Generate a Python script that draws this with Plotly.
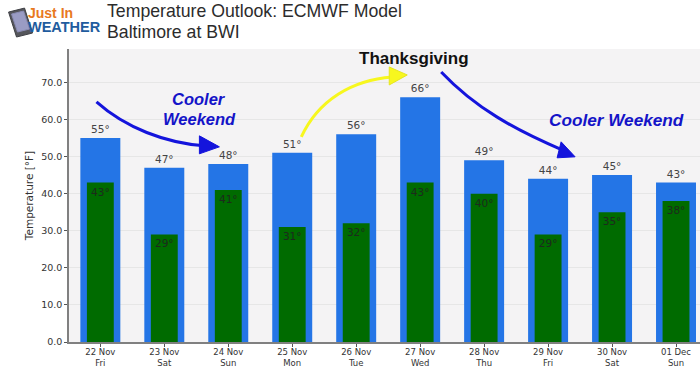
import plotly.graph_objects as go

dates = ["22 Nov", "23 Nov", "24 Nov", "25 Nov", "26 Nov", "27 Nov", "28 Nov", "29 Nov", "30 Nov", "01 Dec"]
weekdays = ["Fri", "Sat", "Sun", "Mon", "Tue", "Wed", "Thu", "Fri", "Sat", "Sun"]
highs = [55, 47, 48, 51, 56, 66, 49, 44, 45, 43]
lows = [43, 29, 41, 31, 32, 43, 40, 29, 35, 38]
y_ticks = [0, 10, 20, 30, 40, 50, 60, 70]

W, H = 700, 366
L, R, T, B = 68.5, 700, 49, 342.5
Y_MAX = 79


def px(x, y):
    return (x - L) / (R - L), (B - y) / (B - T)


def path(points, close=False):
    out = []
    for cmd, *coords in points:
        pairs = [px(coords[i], coords[i + 1]) for i in range(0, len(coords), 2)]
        out.append(cmd + " " + " ".join(f"{a:.5f},{b:.5f}" for a, b in pairs))
    return " ".join(out) + (" Z" if close else "")


def curve(points, color, width):
    return dict(type="path", xref="paper", yref="paper", path=path(points),
                line=dict(color=color, width=width), layer="above")


def fill(points, color, line_color=None, layer="above"):
    return dict(type="path", xref="paper", yref="paper", path=path(points, True),
                fillcolor=color, line=dict(color=line_color or color, width=1), layer=layer)


def label(x, y, text, size, color, family="Liberation Sans", anchor="center", **kw):
    a, b = px(x, y)
    return dict(x=a, y=b, xref="paper", yref="paper", text=text, showarrow=False,
                xanchor=anchor, yanchor="middle", font=dict(family=family, size=size, color=color), **kw)


ix = list(range(len(dates)))
fig = go.Figure()
fig.add_bar(x=ix, y=highs, width=0.625, marker=dict(color="#2475E6", line_width=0),
            text=[f"{v}°" for v in highs], textposition="outside", cliponaxis=False,
            textfont=dict(family="DejaVu Sans", size=10.5, color="#444444"))
fig.add_bar(x=ix, y=lows, width=0.42, marker=dict(color="#006B00", line_width=0),
            text=[f"{v}°" for v in lows], textposition="inside", insidetextanchor="end",
            textangle=0, constraintext="none",
            textfont=dict(family="DejaVu Sans", size=10.5, color="#1d2a1d"))

shapes = [
    # arrows
    curve([("M", 96, 102), ("C", 125, 128, 165, 143, 204, 146)], "#1414DC", 3),
    fill([("M", 199, 136), ("L", 219, 147), ("L", 199, 154)], "#1414DC"),
    curve([("M", 301, 137), ("C", 318, 100, 352, 80, 392, 77)], "#F7F71E", 3),
    fill([("M", 389, 67), ("L", 407, 75), ("L", 389, 85)], "#F7F71E", "#E6E620"),
    curve([("M", 441, 72), ("C", 475, 108, 515, 130, 562, 150)], "#1414DC", 3),
    fill([("M", 561, 142), ("L", 575, 157), ("L", 557, 158)], "#1414DC"),
    # logo phone
    fill([("M", 8, 12), ("L", 24, 8), ("L", 32, 33), ("L", 16, 37)], "#55565c", "#3f4045"),
    fill([("M", 11, 14), ("L", 23, 11), ("L", 29, 29), ("L", 17, 32)], "#9a9cc4", "#8a8cb4"),
]

annotations = [
    label(50, 13, "<b>Just In</b>", 14, "#E8791E"),
    label(64, 27, "<b>WEATHER</b>", 14.5, "#1F5C9E"),
    label(105, 11, "Temperature Outlook: ECMWF Model", 17.7, "#2c2c2c", anchor="left"),
    label(105, 32, "Baltimore at BWI", 17.7, "#2c2c2c", anchor="left"),
    label(414, 59, "<b>Thanksgiving</b>", 17, "#111111"),
    label(199, 99, "<b><i>Cooler</i></b>", 16.5, "#1414C8"),
    label(199, 119, "<b><i>Weekend</i></b>", 16.5, "#1414C8"),
    label(616, 120, "<b><i>Cooler Weekend</i></b>", 17.2, "#1414C8"),
]

fig.update_layout(
    width=W, height=H, autosize=False, barmode="overlay", showlegend=False,
    paper_bgcolor="white", plot_bgcolor="#F4F3F4",
    margin=dict(l=L, r=W - R, t=T, b=H - B, pad=0),
    shapes=shapes, annotations=annotations,
    font=dict(family="DejaVu Sans", color="#333333"),
)
fig.update_xaxes(range=[-0.49, 9.375], tickmode="array", tickvals=ix,
                 ticktext=[f"{d}<br>{w}" for d, w in zip(dates, weekdays)],
                 tickfont=dict(family="DejaVu Sans", size=8.5, color="#333333"),
                 ticks="outside", ticklen=3, tickcolor="#555555", showgrid=False, automargin=False,
                 ticklabelstandoff=-2,
                 showline=True, linecolor="#808080", linewidth=1.5, zeroline=False)
fig.update_yaxes(range=[0, Y_MAX], tickmode="array", tickvals=y_ticks,
                 ticktext=[f"{v:.1f}" for v in y_ticks], automargin=False,
                 tickfont=dict(family="DejaVu Sans", size=9.5, color="#333333"),
                 ticks="outside", ticklen=3, tickcolor="#555555",
                 showgrid=True, gridcolor="#E6E6E6", gridwidth=1,
                 showline=True, linecolor="#808080", linewidth=1.5, mirror=True, zeroline=False,
                 title=dict(text="Temperature [°F]", standoff=6,
                            font=dict(family="DejaVu Sans", size=10.5, color="#333333")))
fig.write_html("out.html", config=dict(displayModeBar=False),
               post_script="document.body.style.margin='0';document.documentElement.style.overflow='hidden';")
